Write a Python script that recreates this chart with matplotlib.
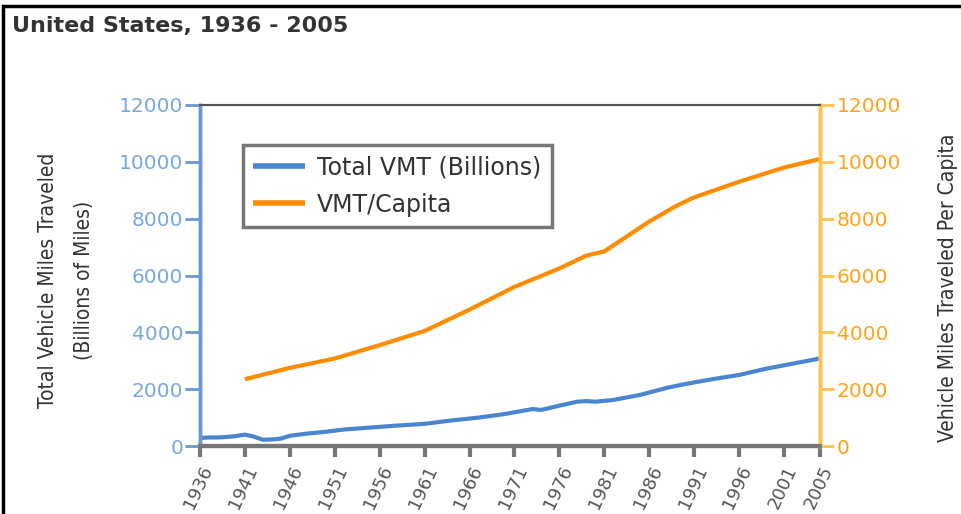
import matplotlib
matplotlib.use("Agg")
import matplotlib.pyplot as plt
from matplotlib.patches import Rectangle

# total vehicle miles traveled, billions
vmt_years = [1936, 1937, 1938, 1939, 1940, 1941, 1942, 1943, 1944, 1945, 1946, 1947,
             1948, 1950, 1952, 1955, 1958, 1961, 1964, 1967, 1970, 1973, 1974, 1976,
             1978, 1979, 1980, 1982, 1985, 1988, 1990, 1993, 1996, 1999, 2002, 2005]
vmt_total = [280, 300, 300, 320, 350, 400, 330, 220, 230, 260, 360, 400,
             440, 500, 580, 650, 720, 780, 900, 1000, 1130, 1300, 1270, 1420,
             1560, 1580, 1560, 1620, 1800, 2050, 2180, 2350, 2500, 2720, 2900, 3080]

# vmt per capita
cap_years = [1941, 1946, 1951, 1956, 1961, 1966, 1971, 1976, 1979, 1981, 1986, 1989,
             1991, 1996, 2001, 2005]
vmt_capita = [2350, 2750, 3080, 3550, 4050, 4800, 5600, 6250, 6700, 6850, 7900, 8450,
              8750, 9300, 9800, 10100]

tick_years = [1936, 1941, 1946, 1951, 1956, 1961, 1966, 1971, 1976, 1981, 1986, 1991,
              1996, 2001, 2005]
y_ticks = [0, 2000, 4000, 6000, 8000, 10000, 12000]

blue = "#4a86d0"
orange = "#ff8c00"
narrow = dict(family="DejaVu Sans", stretch="condensed")

fig = plt.figure(figsize=(9.61, 5.14), dpi=100)
ax = fig.add_axes([200 / 961, 1 - 446 / 514, 620 / 961, 341 / 514])
ax2 = ax.twinx()

l1, = ax.plot(vmt_years, vmt_total, color=blue, lw=3, solid_capstyle="butt")
l2, = ax2.plot(cap_years, vmt_capita, color=orange, lw=3, solid_capstyle="butt")

for a in (ax, ax2):
    a.set_xlim(1936, 2005)
    a.set_ylim(0, 12000)
    a.set_yticks(y_ticks)

ax.set_xticks(tick_years)
ax.set_xticklabels([str(y) for y in tick_years], rotation=65, ha="right",
                   rotation_mode="anchor", fontsize=13, color="#555555")
ax.tick_params(axis="x", length=8, width=3, color="#777777", pad=4)
ax.tick_params(axis="y", length=11, width=2, color="#6a98d0", labelcolor="#78a8e0",
               labelsize=14.5, pad=1)
ax2.tick_params(axis="y", length=10, width=2, color="#ffc34d", labelcolor="#ffa31a",
                labelsize=14.5, pad=2)

for a in (ax, ax2):
    a.spines["left"].set_color("#6a98d0")
    a.spines["left"].set_linewidth(2.5)
    a.spines["right"].set_color("#ffc34d")
    a.spines["right"].set_linewidth(2.5)
    a.spines["top"].set_color("#555555")
    a.spines["top"].set_linewidth(1.5)
    a.spines["bottom"].set_color("#777777")
    a.spines["bottom"].set_linewidth(3)

leg = ax2.legend([l1, l2], ["Total VMT (Billions)", "VMT/Capita"],
                 loc="upper left", bbox_to_anchor=(0.069, 0.883),
                 prop={"family": "DejaVu Sans", "size": 17},
                 frameon=True, fancybox=False, shadow=False,
                 handlelength=2.2, handletextpad=0.5, labelspacing=0.55,
                 borderpad=0.45, borderaxespad=0)
leg.get_frame().set_edgecolor("#555555")
leg.get_frame().set_linewidth(2.5)
for t in leg.get_texts():
    t.set_color("#333333")
for h in leg.get_lines():
    h.set_linewidth(4)

fig.text(12 / 961, 1 - 16 / 514, "United States, 1936 - 2005", ha="left", va="top",
         fontsize=16, fontweight="bold", color="#333333")

fig.text(66 / 961, 1 - 280 / 514, "Total Vehicle Miles Traveled\n(Billions of Miles)",
         rotation=90, ha="center", va="center", linespacing=2.0, fontsize=15,
         color="#333333", **narrow)
fig.text(948 / 961, 1 - 288 / 514, "Vehicle Miles Traveled Per Capita",
         rotation=90, ha="center", va="center", fontsize=15,
         color="#333333", **narrow)

fig.patches.append(Rectangle((3 / 961, -0.5), 2, 0.5 + 1 - 6 / 514, fill=False,
                             ec="black", lw=2.5, transform=fig.transFigure))

fig.savefig("out.png", dpi=100)
